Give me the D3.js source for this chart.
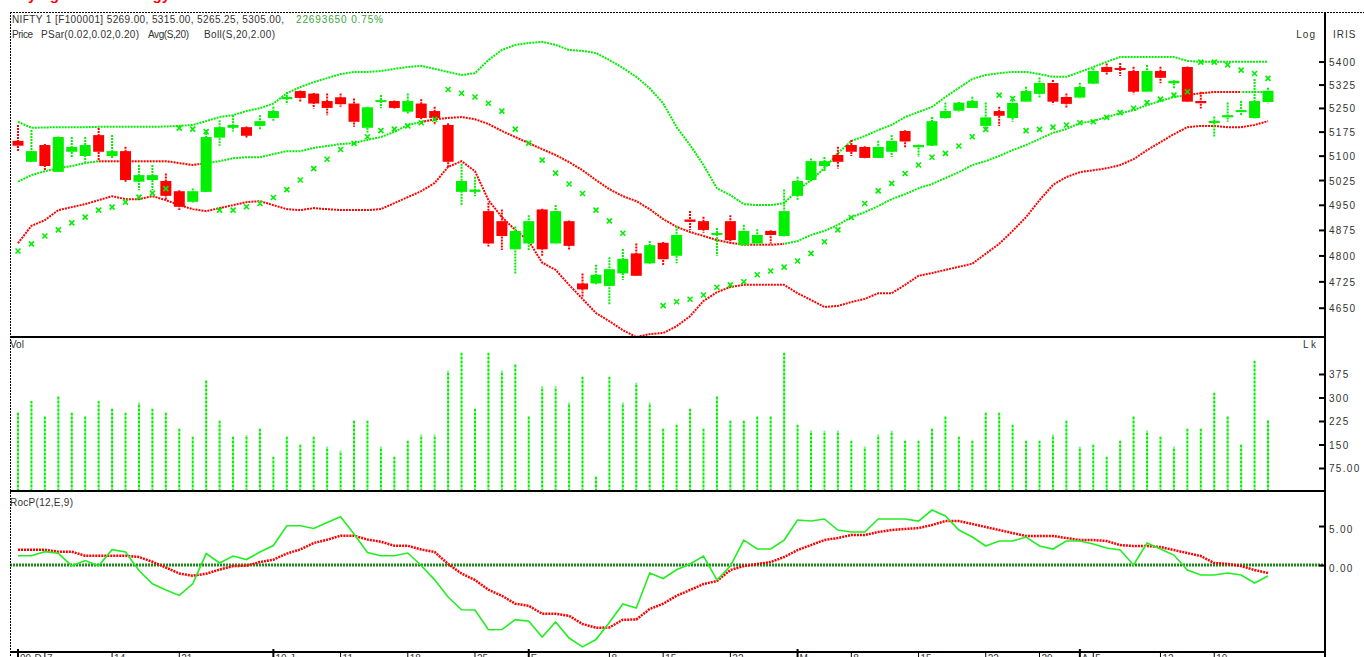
<!DOCTYPE html>
<html><head><meta charset="utf-8">
<script src="https://cdn.jsdelivr.net/npm/d3@7"></script>
<style>
body{margin:0;background:#fff;overflow:hidden}
svg{display:block}
text{font-family:"Liberation Sans",Arial,sans-serif}
</style>
</head><body>
<svg id="c" width="1364" height="657"></svg>
<script>
// ---------------- DATA ----------------
const opens = [5146,5081,5133,5050,5112,5099,5164,5099,5114,5020,
 5025,5022,4991,4959,4989,5156,5187,5189,5193,5218,
 5278,5304,5296,5272,5284,5264,5187,5269,5272,5238,
 5264,5240,5196,4989,4989,4931,4901,4818,4835,4936,
 4835,4901,4719,4719,4712,4748,4806,4777,4837,4799,
 4906,4901,4862,4901,4830,4835,4872,4857,4977,5025,
 5068,5102,5133,5127,5093,5112,5177,5126,5131,5218,
 5241,5250,5193,5240,5218,5270,5295,5330,5285,5283,
 5328,5382,5379,5369,5302,5369,5329,5382,5272,5202,
 5220,5240,5218,5269];
const highs = [5196,5180,5136,5160,5158,5158,5186,5164,5128,5071,
 5071,5045,4994,4999,5180,5211,5227,5191,5227,5254,
 5301,5306,5298,5296,5296,5280,5254,5291,5274,5296,
 5278,5254,5201,5075,5035,4956,4936,4885,4919,4938,
 4949,4903,4748,4773,4795,4819,4835,4842,4839,4887,
 4931,4914,4881,4919,4890,4877,4874,4996,5035,5091,
 5096,5128,5149,5129,5146,5164,5179,5135,5221,5267,
 5269,5286,5267,5254,5286,5318,5348,5340,5296,5331,
 5378,5394,5395,5383,5389,5383,5339,5384,5302,5223,
 5267,5272,5343,5315];
const lows = [5112,5078,5055,5048,5094,5081,5084,5091,5020,4994,
 4994,4964,4934,4957,4987,5131,5175,5154,5180,5206,
 5262,5268,5248,5227,5254,5190,5172,5249,5248,5232,
 5211,5196,5065,4946,4976,4826,4816,4748,4816,4797,
 4833,4816,4681,4717,4660,4729,4740,4776,4770,4777,
 4875,4867,4799,4835,4829,4830,4835,4855,4964,5020,
 5050,5060,5099,5091,5092,5096,5123,5096,5129,5216,
 5239,5249,5180,5193,5206,5269,5280,5262,5248,5281,
 5327,5356,5353,5294,5300,5329,5313,5268,5248,5160,
 5206,5225,5216,5265.25];
const closes = [5131,5114,5068,5158,5127,5133,5112,5114,5025,5040,
 5040,4977,4944,4991,5158,5189,5196,5162,5208,5240,
 5285,5282,5264,5250,5262,5206,5252,5275,5250,5272,
 5218,5218,5081,5022,4996,4835,4857,4872,4901,4818,
 4931,4828,4702,4744,4760,4790,4741,4830,4789,4860,
 4899,4875,4866,4845,4872,4860,4860,4931,5022,5083,
 5083,5081,5112,5093,5127,5146,5144,5133,5208,5240,
 5267,5272,5220,5225,5266,5304,5330,5270,5263,5317,
 5369,5366,5376,5302,5369,5347,5337,5270,5265,5209,
 5227,5243,5272,5305];
const psar = [4813,4834,4857,4875,4896,4913,4934,4943,4958,4973,
 4985,4999,5186,5183,5175,4934,4934,4944,4954,4972,
 4996,5025,5060,5089,5119,5138,5159,5178,5183,5193,
 5203,5214,5309,5297,5285,5265,5240,5183,5139,5086,
 5046,5013,4984,4934,4902,4865,null,null,4656,4667,
 4674,4686,4708,4715,4724,4744,4755,4766,4784,4806,
 4840,4875,4912,4954,4992,5015,5045,5071,5095,5107,
 5130,5159,5182,5291,5280,5178,5182,5189,5196,5203,
 5206,5220,5235,5249,5267,5278,5291,5302,5398,5398,
 5389,5372,5361,5345];
const bollUpper = [5206,5187,5188,5189,5189,5189,5190,5190,5190,5190,
 5190,5191,5193,5196,5208,5221,5227,5240,5249,5264,
 5297,5317,5333,5346,5359,5366,5366,5369,5376,5382,
 5386,5376,5366,5356,5362,5405,5438,5455,5461,5465,
 5455,5438,5435,5428,5405,5379,5350,5313,5265,5189,
 5133,5071,5000,4979,4952,4949,4949,4955,4994,5025,
 5061,5108,5146,5161,5180,5196,5221,5237,5253,5285,
 5314,5343,5356,5362,5366,5366,5359,5350,5350,5366,
 5382,5399,5415,5415,5415,5415,5415,5402,5399,5399,
 5399,5399,5399,5399];
const bollMid = [5020,5040,5052,5061,5068,5077,5083,5083,5083,5083,
 5083,5083,5077,5071,5077,5083,5092,5095,5095,5105,
 5114,5114,5124,5130,5136,5139,5149,5158,5174,5196,
 5205,5214,5218,5221,5214,5199,5177,5158,5139,5120,
 5102,5080,5055,5025,4997,4976,4961,4937,4907,4884,
 4869,4857,4845,4837,4831,4831,4831,4834,4842,4860,
 4872,4890,4913,4928,4946,4967,4982,5000,5013,5031,
 5049,5071,5083,5099,5117,5133,5152,5171,5183,5202,
 5208,5221,5233,5243,5259,5272,5285,5291,5297,5301,
 5301,5301,5301,5301];
const avg20 = [null,null,null,null,null,null,5083,5083,5083,5083,
 5083,5083,5077,5071,5077,null,null,null,null,null,
 null,null,null,null,null,null,null,null,null,null,
 5205,5214,5218,5221,5214,5199,5177,5158,5139,5120,
 5102,5080,5055,5025,4997,4976,4961,4937,4907,4884,
 4869,4857,4845,4837,4831,4831,4831,4834,null,null,
 null,null,null,null,null,null,null,null,null,null,
 null,null,null,null,null,null,null,null,null,null,
 null,null,null,null,null,null,null,5291,5297,5301,
 5301,5301,null,null];
const bollLower = [4836,4887,4904,4934,4943,4952,4964,4976,4967,4967,
 4976,4964,4949,4937,4931,4940,4949,4958,4961,4949,
 4937,4934,4940,4937,4934,4934,4934,4937,4955,4973,
 4991,5016,5065,5083,5052,4964,4913,4875,4842,4779,
 4758,4715,4675,4635,4612,4587,4568,4576,4579,4598,
 4626,4669,4694,4709,4715,4715,4715,4715,4691,4672,
 4652,4655,4666,4675,4691,4691,4715,4741,4749,4758,
 4767,4776,4805,4834,4872,4913,4964,5010,5034,5049,
 5055,5061,5071,5089,5117,5142,5167,5189,5193,5193,
 5189,5189,5196,5208];
const volume = [251,289,239,303,251,239,289,264,251,283,
 264,251,200,175,354,226,175,180,200,111,
 175,149,175,143,130,226,226,143,111,162,
 181,181,385,443,264,443,385,405,239,335,
 335,283,366,47,366,283,347,283,200,213,
 264,200,303,226,226,239,239,443,213,194,
 194,194,162,143,181,194,162,162,200,239,
 175,162,251,251,213,162,162,181,226,143,
 149,111,162,239,194,175,143,200,200,315,
 239,149,417,227];
const rocp = [1.19,1.19,1.71,1.5,-0.09,0.58,-0.09,1.96,1.67,-0.7,
 -2.4,-3.2,-3.9,-2.4,1.47,0.26,1.15,0.7,1.67,2.5,
 5.04,5.04,4.68,5.45,6.2,3.97,1.6,1.19,1.19,1.54,
 -0.06,-1.9,-4.1,-5.73,-5.77,-8.3,-8.27,-7.0,-7.2,-9.23,
 -7.3,-9.36,-10.5,-9.55,-7.37,-5.0,-5.5,-1.03,-1.73,-0.6,
 0.13,1.15,-1.92,-0.13,3.2,2.05,2.05,3.2,5.77,5.64,
 5.9,4.49,4.23,4.23,5.9,5.9,5.9,5.64,7.05,6.28,
 4.49,3.59,2.44,3.08,3.08,3.59,2.44,2.05,3.08,3.08,
 2.69,2.18,1.92,0,2.82,2.05,1.28,-0.64,-1.28,-1.28,
 -1.03,-1.28,-2.3,-1.41];
const rocpSignal = [1.96,1.96,1.96,1.71,1.71,1.19,1.19,1.19,1.19,1.03,
 0.42,-0.32,-1.09,-1.37,-1.12,-0.58,-0.13,-0.09,0.38,0.68,
 1.47,1.99,2.82,3.24,3.76,3.76,3.27,2.99,2.47,2.47,
 1.99,1.67,0.13,-1.09,-1.92,-3.17,-3.94,-4.96,-5.23,-6.24,
 -6.24,-6.51,-7.56,-8.04,-8.01,-7.01,-6.99,-5.64,-4.96,-3.94,
 -3.2,-2.44,-2.05,-0.64,-0.13,0.13,0.38,1.03,1.92,2.56,
 3.21,3.46,3.85,3.85,4.23,4.49,4.62,4.74,5.13,5.64,
 5.64,5.26,4.87,4.49,4.1,3.72,3.72,3.72,3.46,3.21,
 3.21,3.08,2.56,2.44,2.44,2.31,1.92,1.54,1.15,0.26,
 0.13,-0.13,-0.64,-1.03];
const xTickIdx = [0,2,7,12,19,24,29,34,38,44,48,53,58,62,67,72,76,79,80,85,89];
const xTickLabels = ["09-D","7","14","21","10-J","11","18","25","F","8","15","22","M","8","15","22","29","A","5","12","19"];
const xMajor = ["09-D","10-J","F","M","A"];
const priceTicks = [5400,5325,5250,5175,5100,5025,4950,4875,4800,4725,4650];
const volTicks = [375,300,225,150,75];
const volTickLabels = ["375","300","225","150","75.00"];
const rocTicks = [5,0];
const rocTickLabels = ["5.00","0.00"];

// ---------------- CHART ----------------
const GREEN = "#00f000", RED = "#ff0000";
const L = 10, R = 1325;
const svg = d3.select("#c");
svg.append("rect").attr("width",1364).attr("height",657).attr("fill","#fff");

const x = d3.scaleLinear().domain([0, opens.length-1]).range([18, 1268]);
const yP = d3.scaleLog().domain([4568, 5565]).range([337, 12]);
const yV = d3.scaleLinear().domain([0, 493]).range([491.5, 337]);
const yR = d3.scaleLinear().domain([-11.15, 9.49]).range([652, 491]);

const defs = svg.append("defs");
defs.append("clipPath").attr("id","cp").append("rect").attr("x",L).attr("y",12).attr("width",R-L).attr("height",325);
defs.append("clipPath").attr("id","cr").append("rect").attr("x",L).attr("y",491).attr("width",R-L).attr("height",161);

// red title, cut off at the very top in the original
svg.append("text").attr("x",8).attr("y",0).attr("fill",RED).attr("font-size",15).attr("font-weight","bold").text("Buying");
svg.append("text").attr("x",110).attr("y",0).attr("fill",RED).attr("font-size",15).attr("font-weight","bold").text("Strategy");

// price panel
const gp = svg.append("g").attr("clip-path","url(#cp)");
const lineOf = (arr, ys) => d3.line().defined(d => d != null).x((d,i)=>x(i)).y(d=>ys(d))(arr);
const drawLine = (g, arr, ys, col, w, dash) => g.append("path").attr("d", lineOf(arr, ys))
  .attr("fill","none").attr("stroke",col).attr("stroke-width",w).attr("stroke-dasharray",dash);

drawLine(gp, bollUpper, yP, GREEN, 2, "2,1");
drawLine(gp, bollMid, yP, GREEN, 2, "2,1");
drawLine(gp, avg20, yP, "#fff", 2.4, null);
drawLine(gp, avg20, yP, RED, 2, "2,1");
drawLine(gp, bollLower, yP, RED, 2, "2,1");

// candles
const idx = d3.range(opens.length);
const cg = gp.append("g");
idx.forEach(i => {
  const up = closes[i] >= opens[i];
  const col = up ? GREEN : RED;
  cg.append("line").attr("x1",x(i)).attr("x2",x(i)).attr("y1",yP(highs[i])).attr("y2",yP(lows[i]))
    .attr("stroke",col).attr("stroke-width",2).attr("stroke-dasharray","2,1");
  const t = yP(Math.max(opens[i],closes[i])), b = yP(Math.min(opens[i],closes[i]));
  cg.append("rect").attr("x",x(i)-5.5).attr("width",11).attr("y",t).attr("height",Math.max(2,b-t)).attr("fill",col);
});
// PSAR markers
idx.filter(i => psar[i] != null).forEach(i => {
  gp.append("path").attr("transform",`translate(${x(i)},${yP(psar[i])})`)
    .attr("d","M-2.5,-2.5L2.5,2.5M-2.5,2.5L2.5,-2.5").attr("stroke",GREEN).attr("stroke-width",1.6).attr("fill","none");
});

// volume
idx.forEach(i => {
  svg.append("line").attr("x1",x(i)).attr("x2",x(i)).attr("y1",yV(0)).attr("y2",yV(volume[i]))
    .attr("stroke",GREEN).attr("stroke-width",2).attr("stroke-dasharray","3,1");
});

// RocP
const gr = svg.append("g").attr("clip-path","url(#cr)");
gr.append("line").attr("x1",L).attr("x2",R).attr("y1",yR(0)).attr("y2",yR(0))
  .attr("stroke","#1a8a1a").attr("stroke-width",3).attr("stroke-dasharray","2,1");
drawLine(gr, rocpSignal, yR, RED, 2.5, "2,1");
drawLine(gr, rocp, yR, "#22ee22", 1.6, null);

// frame
svg.append("line").attr("x1",L+0.5).attr("x2",L+0.5).attr("y1",12).attr("y2",657).attr("stroke","#000").attr("stroke-dasharray","2,1");
svg.append("line").attr("x1",L).attr("x2",1364).attr("y1",12.5).attr("y2",12.5).attr("stroke","#000").attr("stroke-dasharray","2,1");
[337,491,652].forEach(yy => svg.append("line").attr("x1",L).attr("x2",R).attr("y1",yy).attr("y2",yy).attr("stroke","#000").attr("stroke-width",2));
svg.append("line").attr("x1",R).attr("x2",R).attr("y1",12).attr("y2",657).attr("stroke","#000").attr("stroke-width",2);

// right axes
function rightAxis(scale, vals, labels, dy){
  const g = svg.append("g").attr("transform",`translate(${R},0)`)
    .call(d3.axisRight(scale).tickValues(vals).tickSize(-6).tickPadding(4).tickFormat((d,i)=>labels[i]));
  g.select(".domain").remove();
  g.selectAll(".tick line").attr("stroke","#000").attr("stroke-width",2).attr("x1",1);
  g.selectAll(".tick text").attr("font-size",10).attr("fill","#333").attr("letter-spacing","1.3px")
    .attr("font-family","'Liberation Sans',Arial,sans-serif").attr("dy", dy);
  return g;
}
rightAxis(yP, priceTicks, priceTicks.map(String), "0.4em");
rightAxis(yV, volTicks, volTickLabels, "0.4em");
rightAxis(yR, rocTicks, rocTickLabels, "0.6em");

// x axis
const gx = svg.append("g");
xTickIdx.forEach((t,k) => {
  const big = xMajor.includes(xTickLabels[k]);
  gx.append("line").attr("x1",x(t)).attr("x2",x(t)).attr("y1",big?649:652).attr("y2",657).attr("stroke","#000").attr("stroke-width",big?2:1);
  gx.append("text").attr("x",x(t)+2).attr("y",662).attr("font-size",10).attr("fill","#333").text(xTickLabels[k]);
});

// labels
const T = (xx,yy,s,col,fs,anchor,len) => {
  const t = svg.append("text").attr("x",xx).attr("y",yy).attr("fill",col||"#333")
    .attr("font-size",fs||10).attr("text-anchor",anchor||"start").text(s);
  if (len) t.attr("textLength",len).attr("lengthAdjust","spacing");
  return t;
};
T(12,23,"NIFTY 1 [F100001] 5269.00, 5315.00, 5265.25, 5305.00,",null,10,null,272);
T(296,23,"22693650 0.75%","#3aa63a",10,null,87);
T(12,38,"Price",null,10,null,21);
T(41,38,"PSar(0.02,0.02,0.20)",null,10,null,98);
T(148,38,"Avg(S,20)",null,10,null,41);
T(204,38,"Boll(S,20,2.00)",null,10,null,71);
T(1316,38,"Log","#333",10,"end").attr("letter-spacing","1px");
T(1333,38,"IRIS").attr("letter-spacing","1px");
T(10,348,"Vol");
T(1316,348,"L k","#333",10,"end");
T(10,506,"RocP(12,E,9)",null,10,null,63);
</script>
</body></html>
